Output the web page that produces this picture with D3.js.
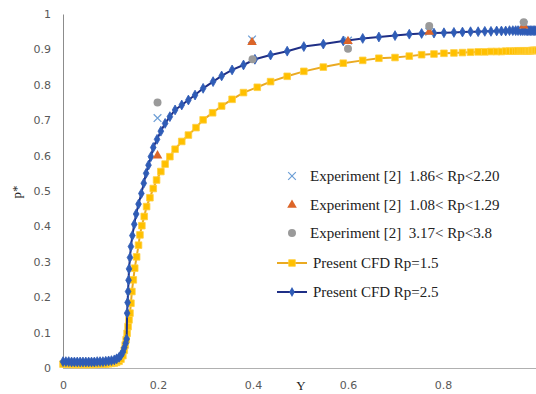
<!DOCTYPE html>
<html>
<head>
<meta charset="utf-8">
<script src="https://cdn.jsdelivr.net/npm/d3@7"></script>
<style>
  html, body { margin: 0; padding: 0; background: #ffffff; }
  svg { display: block; }
  text { white-space: pre; }
</style>
</head>
<body>
<svg id="chart" width="536" height="394"></svg>
<script>
// ---------- data ----------
const xTicks = [0, 0.2, 0.4, 0.6, 0.8];
const yTicks = [0, 0.1, 0.2, 0.3, 0.4, 0.5, 0.6, 0.7, 0.8, 0.9, 1];

// Present CFD Rp=2.5  [Y, p*]
const cfdRp25 = [
  [0.000,0.018],[0.006,0.018],[0.012,0.018],[0.018,0.017],[0.024,0.017],[0.030,0.017],
  [0.036,0.017],[0.042,0.017],[0.048,0.017],[0.054,0.017],[0.060,0.017],[0.066,0.017],
  [0.072,0.018],[0.078,0.018],[0.084,0.018],[0.090,0.019],[0.096,0.020],[0.102,0.021],
  [0.108,0.023],[0.113,0.026],[0.118,0.030],[0.122,0.036],[0.126,0.045],[0.129,0.057],
  [0.132,0.070],[0.134,0.082],
  [0.135,0.155],[0.136,0.185],[0.137,0.216],[0.138,0.248],[0.139,0.280],[0.141,0.312],
  [0.143,0.343],[0.146,0.374],[0.150,0.406],[0.154,0.435],[0.159,0.463],[0.165,0.493],
  [0.170,0.522],[0.175,0.550],[0.180,0.573],[0.185,0.597],[0.190,0.623],[0.198,0.646],
  [0.206,0.669],[0.215,0.691],[0.225,0.710],[0.236,0.729],[0.250,0.743],[0.264,0.757],
  [0.278,0.771],[0.295,0.790],
  [0.316,0.809],[0.334,0.825],[0.356,0.842],[0.380,0.856],[0.404,0.872],[0.437,0.884],
  [0.472,0.895],[0.507,0.908],[0.548,0.915],[0.590,0.924],[0.631,0.931],
  [0.665,0.935],[0.699,0.939],[0.729,0.943],[0.755,0.945],[0.781,0.946],[0.802,0.947],
  [0.823,0.948],[0.841,0.949],[0.858,0.950],[0.874,0.950],[0.888,0.951],[0.901,0.951],
  [0.913,0.952],[0.923,0.952],[0.932,0.952],[0.940,0.953],[0.947,0.953],[0.953,0.953],
  [0.958,0.953],[0.963,0.953],[0.967,0.953],[0.971,0.953],[0.975,0.953],[0.978,0.953],
  [0.981,0.953],[0.984,0.953],[0.987,0.953],[0.990,0.953],[0.993,0.953],[0.996,0.953],
  [1.000,0.953]
];

// Present CFD Rp=1.5  [Y, p*]
const cfdRp15 = [
  [0.000,0.011],[0.006,0.011],[0.012,0.011],[0.018,0.010],[0.024,0.010],[0.030,0.010],
  [0.036,0.010],[0.042,0.010],[0.048,0.010],[0.054,0.010],[0.060,0.010],[0.066,0.010],
  [0.072,0.011],[0.078,0.011],[0.084,0.011],[0.090,0.011],[0.096,0.012],[0.102,0.013],
  [0.108,0.014],[0.113,0.016],[0.118,0.019],[0.122,0.025],
  [0.126,0.035],[0.129,0.050],[0.131,0.065],[0.133,0.080],[0.135,0.098],[0.137,0.117],
  [0.139,0.136],[0.141,0.155],[0.143,0.183],[0.145,0.216],[0.148,0.249],[0.151,0.282],
  [0.155,0.314],[0.159,0.347],[0.162,0.376],[0.166,0.402],[0.171,0.428],[0.176,0.456],
  [0.183,0.481],[0.190,0.507],[0.197,0.531],[0.206,0.555],[0.215,0.576],[0.225,0.597],
  [0.236,0.618],[0.250,0.640],[0.264,0.658],[0.280,0.679],[0.295,0.701],[0.315,0.721],
  [0.334,0.740],[0.356,0.759],[0.380,0.778],[0.409,0.793],[0.437,0.809],[0.472,0.824],
  [0.507,0.838],[0.548,0.850],[0.590,0.861],[0.631,0.869],[0.665,0.875],[0.699,0.877],
  [0.729,0.881],[0.755,0.885],[0.781,0.887],[0.802,0.889],[0.823,0.890],[0.841,0.891],
  [0.858,0.892],[0.874,0.893],[0.888,0.893],[0.901,0.894],[0.913,0.894],[0.923,0.894],
  [0.932,0.895],[0.940,0.895],[0.947,0.895],[0.953,0.895],[0.958,0.896],[0.963,0.896],
  [0.967,0.896],[0.971,0.896],[0.975,0.896],[0.978,0.896],[0.981,0.896],[0.984,0.896],
  [0.987,0.897],[0.990,0.897],[0.993,0.897],[0.996,0.897],[1.000,0.897]
];

// Experiment [2]
const expRp186 = [[0.199,0.706],[0.398,0.928],[0.600,0.925],[0.771,0.950],[0.970,0.969]];
const expRp108 = [[0.199,0.600],[0.398,0.920],[0.600,0.923],[0.771,0.949],[0.970,0.967]];
const expRp317 = [[0.199,0.750],[0.399,0.872],[0.600,0.902],[0.771,0.966],[0.970,0.977]];

const legendLabels = [
  "Experiment [2]  1.86< Rp<2.20",
  "Experiment [2]  1.08< Rp<1.29",
  "Experiment [2]  3.17< Rp<3.8",
  "Present CFD Rp=1.5",
  "Present CFD Rp=2.5"
];

// ---------- styles ----------
const C = {
  blueLine: "#1f2f86", blueMark: "#2f5cb6",
  yelLine: "#eaaa22", yelMark: "#ffc000", yelEdge: "#ffcf40",
  cross: "#6e9fd6", tri: "#dc6528", circ: "#9a9a9a",
  axis: "#8c8c8c", tick: "#595959"
};

const svg = d3.select("#chart");
const x = d3.scaleLinear().domain([0, 1]).range([63, 538]);
const y = d3.scaleLinear().domain([0, 1]).range([368, 14]);

// axes
const fmt = d => d3.format("~g")(d);
const xAxis = svg.append("g").attr("transform", `translate(0,${y(0)})`)
  .call(d3.axisBottom(x).tickValues(xTicks).tickFormat(fmt).tickSize(0).tickPadding(13));
const yAxis = svg.append("g").attr("transform", `translate(${x(0)},0)`)
  .call(d3.axisLeft(y).tickValues(yTicks).tickFormat(fmt).tickSize(0).tickPadding(12));
[xAxis, yAxis].forEach(g => {
  g.select(".domain").attr("stroke", C.axis).attr("stroke-width", 1);
  g.selectAll("text").attr("font-family", "DejaVu Sans").attr("font-size", 11).attr("fill", C.tick);
});
xAxis.select(".domain").attr("stroke", "#b0b0b0");

// axis titles
svg.append("text").attr("x", 301).attr("y", 390).attr("text-anchor", "middle")
  .attr("font-family", "Liberation Serif").attr("font-size", 13).attr("fill", "#222").text("Y");
svg.append("text").attr("transform", "translate(21,192) rotate(-90)").attr("text-anchor", "middle")
  .attr("font-family", "Liberation Serif").attr("font-size", 13).attr("fill", "#222").text("p*");

// symbols
const diamond = d3.symbol().type(d3.symbolDiamond).size(28);
const square = d3.symbol().type(d3.symbolSquare).size(44);
const triangle = d3.symbol().type(d3.symbolTriangle).size(40);
const circle = d3.symbol().type(d3.symbolCircle).size(50);
const cross = d3.symbol().type(d3.symbolTimes).size(40);

const line = d3.line().x(d => x(d[0])).y(d => y(d[1]));

// Rp=1.5 series (yellow squares)
svg.append("path").datum(cfdRp15).attr("d", line).attr("fill", "none")
  .attr("stroke", C.yelLine).attr("stroke-width", 2);
svg.append("g").selectAll("path").data(cfdRp15).join("path")
  .attr("d", square).attr("transform", d => `translate(${x(d[0])},${y(d[1])})`)
  .attr("fill", C.yelMark).attr("stroke", C.yelEdge).attr("stroke-width", 0.8);

// Rp=2.5 series (blue diamonds)
svg.append("path").datum(cfdRp25).attr("d", line).attr("fill", "none")
  .attr("stroke", C.blueLine).attr("stroke-width", 2);
svg.append("g").selectAll("path").data(cfdRp25).join("path")
  .attr("d", diamond).attr("transform", d => `translate(${x(d[0])},${y(d[1])})`)
  .attr("fill", C.blueMark).attr("stroke", C.blueMark).attr("stroke-width", 0.8);

// experiments
svg.append("g").selectAll("path").data(expRp186).join("path")
  .attr("d", cross).attr("transform", d => `translate(${x(d[0])},${y(d[1])})`)
  .attr("fill", "none").attr("stroke", C.cross).attr("stroke-width", 1.3);
svg.append("g").selectAll("path").data(expRp108).join("path")
  .attr("d", triangle).attr("transform", d => `translate(${x(d[0])},${y(d[1])})`)
  .attr("fill", C.tri);
svg.append("g").selectAll("path").data(expRp317).join("path")
  .attr("d", circle).attr("transform", d => `translate(${x(d[0])},${y(d[1])})`)
  .attr("fill", C.circ);

// legend
const lg = svg.append("g");
const rows = [176, 205, 233, 263, 292];
const lx = 292;
lg.append("path").attr("d", cross).attr("transform", `translate(${lx},${rows[0]})`)
  .attr("fill", "none").attr("stroke", C.cross).attr("stroke-width", 1.2);
lg.append("path").attr("d", triangle).attr("transform", `translate(${lx},${rows[1]})`).attr("fill", C.tri);
lg.append("path").attr("d", circle).attr("transform", `translate(${lx},${rows[2]})`).attr("fill", C.circ);
lg.append("line").attr("x1", 277).attr("x2", 307).attr("y1", rows[3]).attr("y2", rows[3])
  .attr("stroke", C.yelLine).attr("stroke-width", 2);
lg.append("path").attr("d", square).attr("transform", `translate(${lx},${rows[3]})`)
  .attr("fill", C.yelMark).attr("stroke", C.yelEdge).attr("stroke-width", 0.8);
lg.append("line").attr("x1", 277).attr("x2", 307).attr("y1", rows[4]).attr("y2", rows[4])
  .attr("stroke", C.blueLine).attr("stroke-width", 2);
lg.append("path").attr("d", diamond).attr("transform", `translate(${lx},${rows[4]})`)
  .attr("fill", C.blueMark);
legendLabels.forEach((t, i) => {
  lg.append("text").attr("x", i < 3 ? 310 : 313).attr("y", rows[i] + 5)
    .attr("font-family", "Liberation Serif").attr("font-size", 15).attr("fill", "#222")
    .attr("xml:space", "preserve").text(t);
});
</script>
</body>
</html>
